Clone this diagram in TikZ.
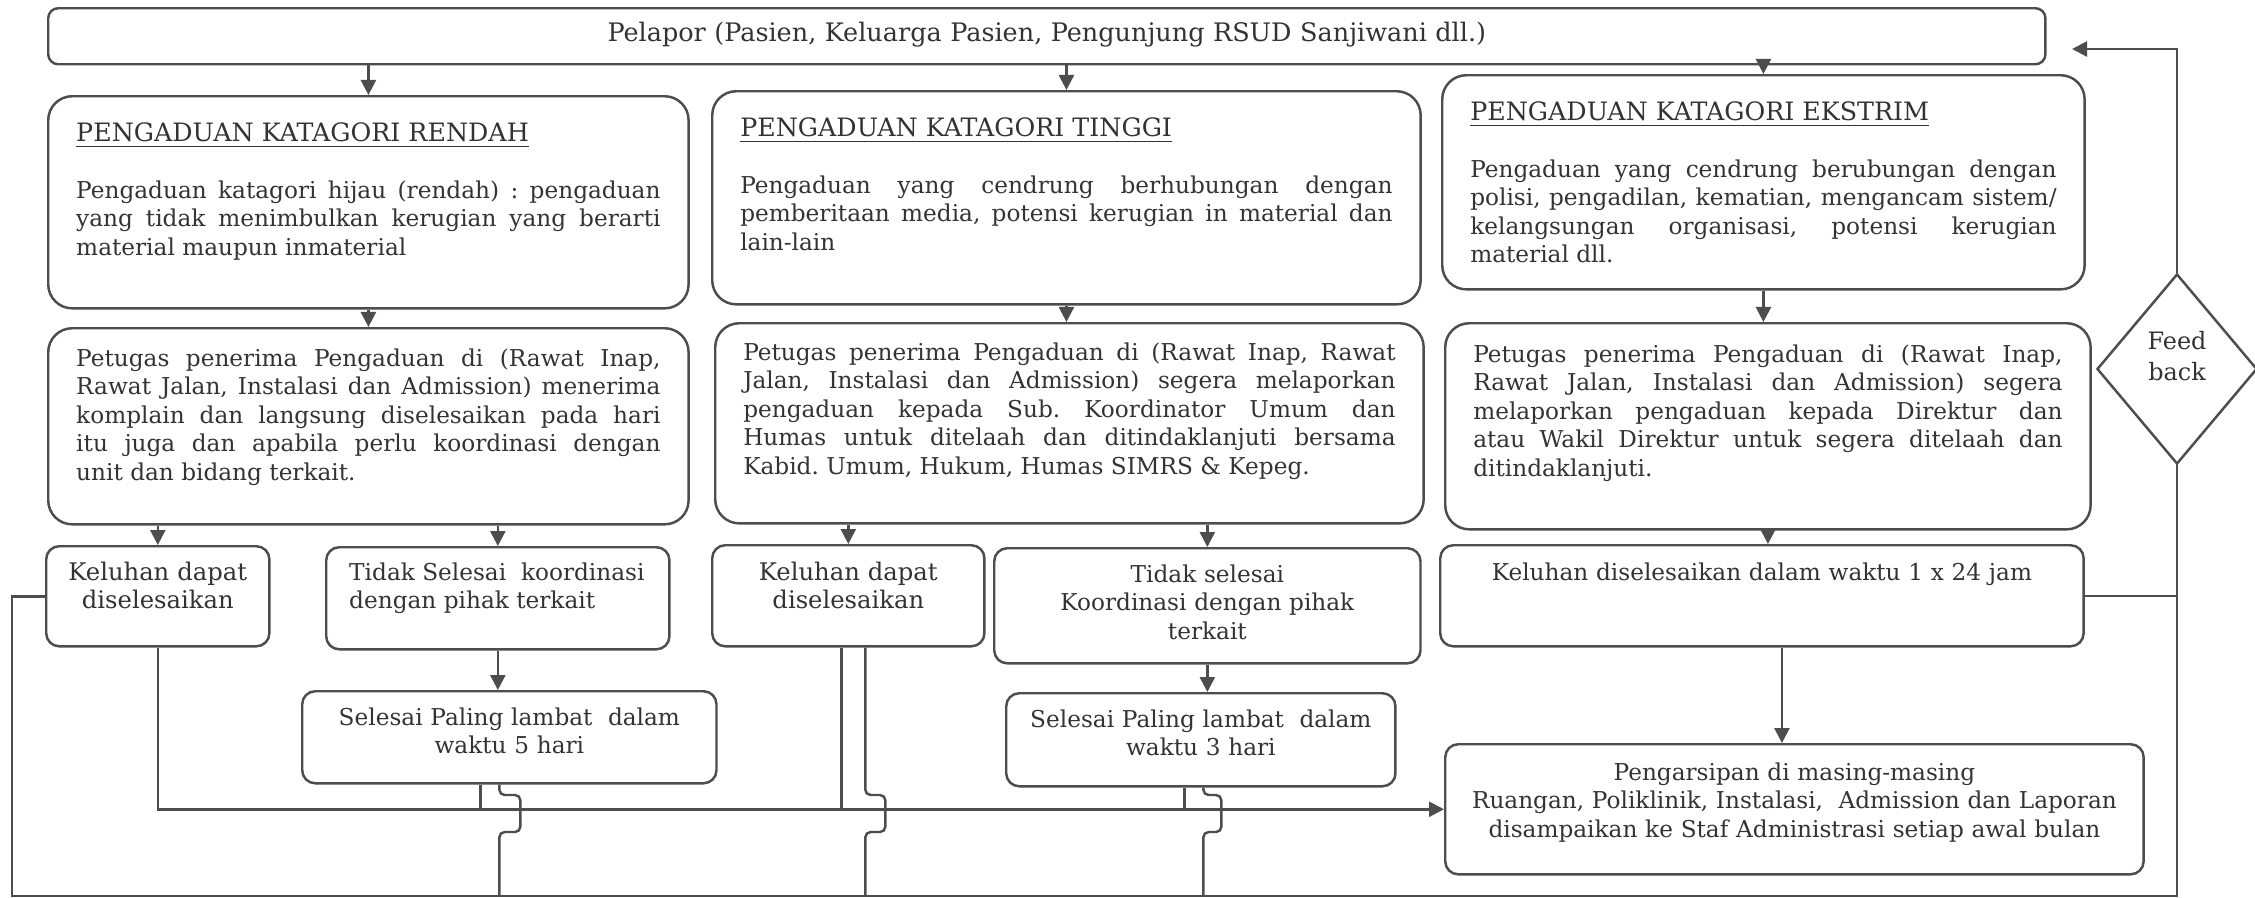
\documentclass[tikz,border=0pt]{standalone}
\usepackage{fontspec}
\setmainfont{DejaVu Serif}
\usetikzlibrary{arrows.meta,shapes.geometric}
\frenchspacing
\definecolor{ink}{HTML}{333333}
\definecolor{edge}{HTML}{4D4D4D}
\newcommand{\judul}[1]{\underline{\fontsize{7.2}{8.1}\selectfont #1}\par\vspace{8.1pt}}
\tikzset{
	box/.style={draw=edge, line width=0.7pt, rounded corners=0.24cm, anchor=north west, inner ysep=0pt, text=ink},
	jbox/.style={box, align=justify, inner xsep=0.28cm},
	cbox/.style={box, align=center, rounded corners=0.13cm, inner xsep=0.1cm},
	arr/.style={draw=edge, line width=0.7pt, -{Triangle[length=0.15cm,width=0.15cm]}},
	link/.style={draw=edge, line width=0.7pt}
}

\begin{document}
\begin{tikzpicture}[x=0.01cm, y=-0.01cm, font=\fontsize{6.6}{8.1}\selectfont]
	\useasboundingbox (0,0) rectangle (2255,897);
	\node[box, rounded corners=0.1cm, text width=19.96cm, inner xsep=0pt, align=center, text height=0.33cm, text depth=0.23cm, font=\fontsize{7.25}{8.1}\selectfont] (P) at (47,7) {Pelapor (Pasien, Keluarga Pasien, Pengunjung RSUD Sanjiwani dll.)};

	\node[jbox, text width=5.84cm, text height=0.45cm, text depth=1.67cm] (A1) at (47,95) {\judul{PENGADUAN KATAGORI RENDAH}Pengaduan katagori hijau (rendah) : pengaduan\linebreak yang tidak menimbulkan kerugian yang berarti\linebreak material maupun inmaterial};
	\node[jbox, text width=6.52cm, text height=0.45cm, text depth=1.68cm] (B1) at (711,90) {\judul{PENGADUAN KATAGORI TINGGI}Pengaduan yang cendrung berhubungan dengan\linebreak pemberitaan media, potensi kerugian in material dan\linebreak lain-lain};
	\node[jbox, text width=5.86cm, text height=0.45cm, text depth=1.69cm] (C1) at (1441,74) {\judul{PENGADUAN KATAGORI EKSTRIM}Pengaduan yang cendrung berubungan dengan\linebreak polisi, pengadilan, kematian, mengancam sistem/\linebreak kelangsungan organisasi, potensi kerugian\linebreak material dll.};

	\node[jbox, text width=5.84cm, text height=0.38cm, text depth=1.58cm] (A2) at (47,327) {Petugas penerima Pengaduan di (Rawat Inap,\linebreak Rawat Jalan, Instalasi dan Admission) menerima\linebreak komplain dan langsung diselesaikan pada hari\linebreak itu juga dan apabila perlu koordinasi dengan\linebreak unit dan bidang terkait.};
	\node[jbox, text width=6.52cm, text height=0.37cm, text depth=1.63cm] (B2) at (714,322) {Petugas penerima Pengaduan di (Rawat Inap, Rawat\linebreak Jalan, Instalasi dan Admission) segera melaporkan\linebreak pengaduan kepada Sub. Koordinator Umum dan\linebreak Humas untuk ditelaah dan ditindaklanjuti bersama\linebreak Kabid. Umum, Hukum, Humas SIMRS \& Kepeg.};
	\node[jbox, text width=5.89cm, text height=0.39cm, text depth=1.67cm] (C2) at (1444,322) {Petugas penerima Pengaduan di (Rawat Inap,\linebreak Rawat Jalan, Instalasi dan Admission) segera\linebreak melaporkan pengaduan kepada Direktur dan\linebreak atau Wakil Direktur untuk segera ditelaah dan\linebreak ditindaklanjuti.};

	\node[draw=edge, line width=0.7pt, diamond, minimum width=1.6cm, minimum height=1.9cm, inner sep=0pt] (fb) at (2177,369) {};
	\node[text=ink, align=center, font=\fontsize{6.8}{8.8}\selectfont] (fbtext) at (2177,356) {Feed\\back};

	\node[cbox, text width=2.03cm, text height=0.34cm, text depth=0.66cm, font=\fontsize{6.9}{8.1}\selectfont] (A3a) at (45,545) {Keluhan dapat\\diselesaikan};
	\node[cbox, align=flush left, inner xsep=0.23cm, text width=2.97cm, text height=0.33cm, text depth=0.69cm] (A3b) at (325,546) {\mbox{Tidak Selesai~ koordinasi}\\\mbox{dengan pihak terkait}};
	\node[cbox, text width=3.94cm, text height=0.34cm, text depth=0.58cm] (A4) at (301,690) {Selesai Paling lambat~ dalam\\waktu 5 hari};
	\node[cbox, text width=2.52cm, text height=0.35cm, text depth=0.66cm, font=\fontsize{6.9}{8.1}\selectfont] (B3a) at (711,544) {Keluhan dapat\\diselesaikan};
	\node[cbox, text width=4.06cm, text height=0.34cm, text depth=0.81cm] (B3b) at (993,547) {Tidak selesai\\Koordinasi dengan pihak\\terkait};
	\node[cbox, text width=3.69cm, text height=0.34cm, text depth=0.59cm] (B4) at (1005,692) {Selesai Paling lambat~ dalam\\waktu 3 hari};
	\node[cbox, text width=6.23cm, text height=0.35cm, text depth=0.66cm] (C3) at (1439,544) {Keluhan diselesaikan dalam waktu 1 x 24 jam};
	\node[cbox, text width=6.78cm, text height=0.36cm, text depth=0.94cm] (C4) at (1444,743) {Pengarsipan di masing-masing\\Ruangan, Poliklinik, Instalasi,~ Admission dan Laporan\\disampaikan ke Staf Administrasi setiap awal bulan};

	\coordinate (bl) at (12,896);
	\coordinate (jy) at (0,795);
	\coordinate (fbtip) at (2072,49);

	\draw[arr] (P.south -| A1.north) -- (A1.north);
	\draw[arr] (P.south -| B1.north) -- (B1.north);
	\draw[arr] (P.south -| C1.north) -- (C1.north);
	\draw[arr] (A1.south) -- (A1.south |- A2.north);
	\draw[arr] (B1.south) -- (B1.south |- B2.north);
	\draw[arr] (C1.south) -- (C1.south |- C2.north);
	\draw[arr] (A2.south -| A3a.north) -- (A3a.north);
	\draw[arr] (A2.south -| A3b.north) -- (A3b.north);
	\draw[arr] (B2.south -| B3a.north) -- (B3a.north);
	\draw[arr] (B2.south -| B3b.north) -- (B3b.north);
	\draw[arr] (C2.south) -- (C2.south |- C3.north);
	\draw[arr] (A3b.south) -- (A3b.south |- A4.north);
	\draw[arr] (B3b.south) -- (B3b.south |- B4.north);
	\draw[arr] ([xshift=0.2cm]C3.south) -- ([xshift=0.2cm]C3.south |- C4.north);

	\draw[arr] (A3a.south) |- (C4.west);
	\draw[link] ([xshift=-0.29cm]A4.south) -- ([xshift=-0.29cm]A4.south |- C4.west);
	\draw[link] ([xshift=-0.07cm]B3a.south) -- ([xshift=-0.07cm]B3a.south |- C4.west);
	\draw[link] ([xshift=-0.165cm]B4.south) -- ([xshift=-0.165cm]B4.south |- C4.west);
	\draw[link, rounded corners=1.5pt] ([xshift=-0.1cm]A4.south) -- ([xshift=-0.1cm]A4.south |- jy) -- ++(21,0) -- ++(0,37) -- ++(-21,0) -- ([xshift=-0.1cm]A4.south |- bl);
	\draw[link, rounded corners=1.5pt] ([xshift=0.17cm]B3a.south) -- ([xshift=0.17cm]B3a.south |- jy) -- ++(20,0) -- ++(0,37) -- ++(-20,0) -- ([xshift=0.17cm]B3a.south |- bl);
	\draw[link, rounded corners=1.5pt] ([xshift=0.025cm]B4.south) -- ([xshift=0.025cm]B4.south |- jy) -- ++(18,0) -- ++(0,37) -- ++(-18,0) -- ([xshift=0.025cm]B4.south |- bl);

	\draw[link] (A3a.west) -| (bl) -- (bl -| fb.south) -- (fb.south);
	\draw[link] (C3.east) -- (C3.east -| fb.south);
	\draw[arr] (fb.north) |- (fbtip);
\end{tikzpicture}
\end{document}
